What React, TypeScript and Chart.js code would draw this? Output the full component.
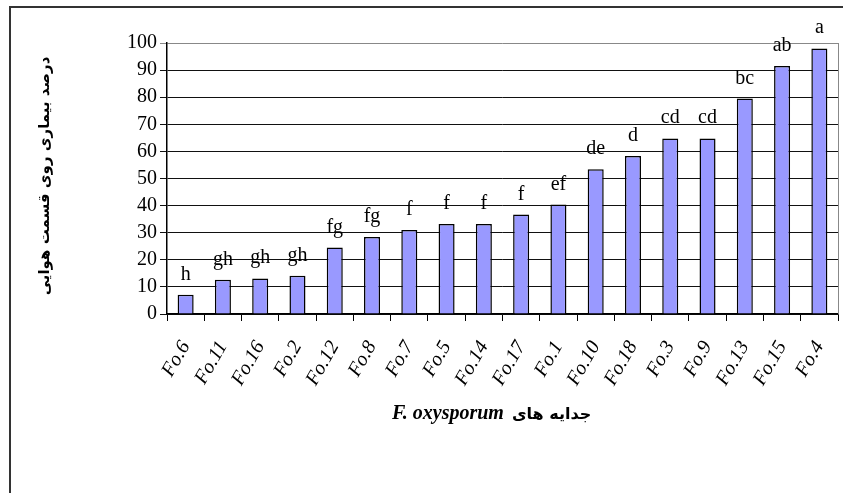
import React, { useEffect, useRef } from "react";
import { Chart, registerables } from "chart.js";

Chart.register(...registerables);

const categories = ["Fo.6", "Fo.11", "Fo.16", "Fo.2", "Fo.12", "Fo.8", "Fo.7", "Fo.5", "Fo.14", "Fo.17", "Fo.1", "Fo.10", "Fo.18", "Fo.3", "Fo.9", "Fo.13", "Fo.15", "Fo.4"];
const diseaseValues = [7.1, 12.6, 13.1, 14.1, 24.5, 28.4, 31.0, 33.2, 33.2, 36.7, 40.4, 53.4, 58.3, 64.8, 64.8, 79.5, 91.5, 98.0];
const groupLetters = ["h", "gh", "gh", "gh", "fg", "fg", "f", "f", "f", "f", "ef", "de", "d", "cd", "cd", "bc", "ab", "a"];
const yTitle = "درصد بیماری روی قسمت هوایی";
const xTitleLatin = "F. oxysporum";
const xTitlePersian = "جدایه های";

const decorPlugin = {
  id: "decor",
  afterDraw(chart: any) {
    const { ctx, chartArea } = chart;
    ctx.save();
    // outer frame (left and top)
    ctx.strokeStyle = "#333";
    ctx.lineWidth = 2;
    ctx.beginPath();
    ctx.moveTo(10, 493);
    ctx.lineTo(10, 7);
    ctx.lineTo(843, 7);
    ctx.stroke();
    // plot area right border
    ctx.strokeStyle = "#888";
    ctx.lineWidth = 1;
    ctx.beginPath();
    ctx.moveTo(Math.round(chartArea.right) + 0.5, chartArea.top);
    ctx.lineTo(Math.round(chartArea.right) + 0.5, chartArea.bottom);
    ctx.stroke();

    // letters above bars
    const meta = chart.getDatasetMeta(0);
    ctx.fillStyle = "#000";
    ctx.font = "20px 'Liberation Serif'";
    ctx.textAlign = "center";
    ctx.textBaseline = "alphabetic";
    meta.data.forEach((bar: any, i: number) => {
      ctx.fillText(groupLetters[i], bar.x, bar.y - 15);
    });

    // y title
    ctx.save();
    ctx.translate(45, 176);
    ctx.rotate(-Math.PI / 2);
    ctx.font = "bold 15px 'DejaVu Sans'";
    ctx.textAlign = "center";
    ctx.textBaseline = "middle";
    ctx.direction = "rtl";
    ctx.fillText(yTitle, 0, 0);
    ctx.restore();

    // x title
    const latinFont = "bold italic 20px 'Liberation Serif'";
    const perFont = "bold 16px 'DejaVu Sans'";
    ctx.font = latinFont;
    const wLatin = ctx.measureText(xTitleLatin).width;
    ctx.font = perFont;
    const wPer = ctx.measureText(xTitlePersian).width;
    const gap = 8;
    const total = wLatin + gap + wPer;
    const startX = 392;
    const baseY = 419;
    ctx.textAlign = "left";
    ctx.font = latinFont;
    ctx.fillText(xTitleLatin, startX, baseY);
    ctx.font = perFont;
    ctx.direction = "rtl";
    ctx.textAlign = "right";
    ctx.fillText(xTitlePersian, startX + total, baseY);
    ctx.restore();
  },
};

export default function App() {
  const canvasRef = useRef<HTMLCanvasElement>(null);

  useEffect(() => {
    const canvas = canvasRef.current;
    if (!canvas) return;
    const chart = new Chart(canvas, {
      type: "bar",
      data: {
        labels: categories,
        datasets: [
          {
            data: diseaseValues,
            backgroundColor: "#9999FF",
            borderColor: "#000",
            borderWidth: 1.5,
            barPercentage: 0.43,
            categoryPercentage: 1,
          },
        ],
      },
      options: {
        responsive: false,
        animation: false,
        maintainAspectRatio: false,
        layout: { padding: { top: 43, left: 0, right: 5, bottom: 0 } },
        plugins: {
          legend: { display: false },
          tooltip: { enabled: false },
        },
        scales: {
          x: {
            offset: true,
            grid: {
              offset: true,
              drawOnChartArea: false,
              drawTicks: true,
              tickLength: 7,
              color: "#000",
            },
            border: { color: "#000", width: 1.5 },
            ticks: {
              color: "#000",
              font: { family: "'Liberation Serif'", size: 20, style: "italic" },
              minRotation: 60,
              maxRotation: 60,
              padding: 16,
              autoSkip: false,
            },
            afterFit(scale: any) {
              scale.height = 179;
              scale.paddingLeft = 0;
              scale.paddingRight = 0;
            },
          },
          y: {
            min: 0,
            max: 100,
            grid: {
              color: (c: any) => (c.tick && c.tick.value === 100 ? "#888" : "#111"),
              tickLength: 7,
              lineWidth: 1,
            },
            border: { color: "#000", width: 1.5 },
            ticks: {
              stepSize: 10,
              color: "#000",
              font: { family: "'Liberation Serif'", size: 20 },
              padding: 3,
            },
            afterFit(scale: any) {
              scale.width = 167;
              scale.paddingTop = 0;
              scale.paddingBottom = 0;
            },
          },
        },
      },
      plugins: [decorPlugin],
    });
    return () => chart.destroy();
  }, []);

  return (
    <div style={{ position: "fixed", left: 0, top: 0, width: 843, height: 493, background: "#fff" }}>
      <canvas ref={canvasRef} width={843} height={493} style={{ width: 843, height: 493, display: "block" }} />
    </div>
  );
}
